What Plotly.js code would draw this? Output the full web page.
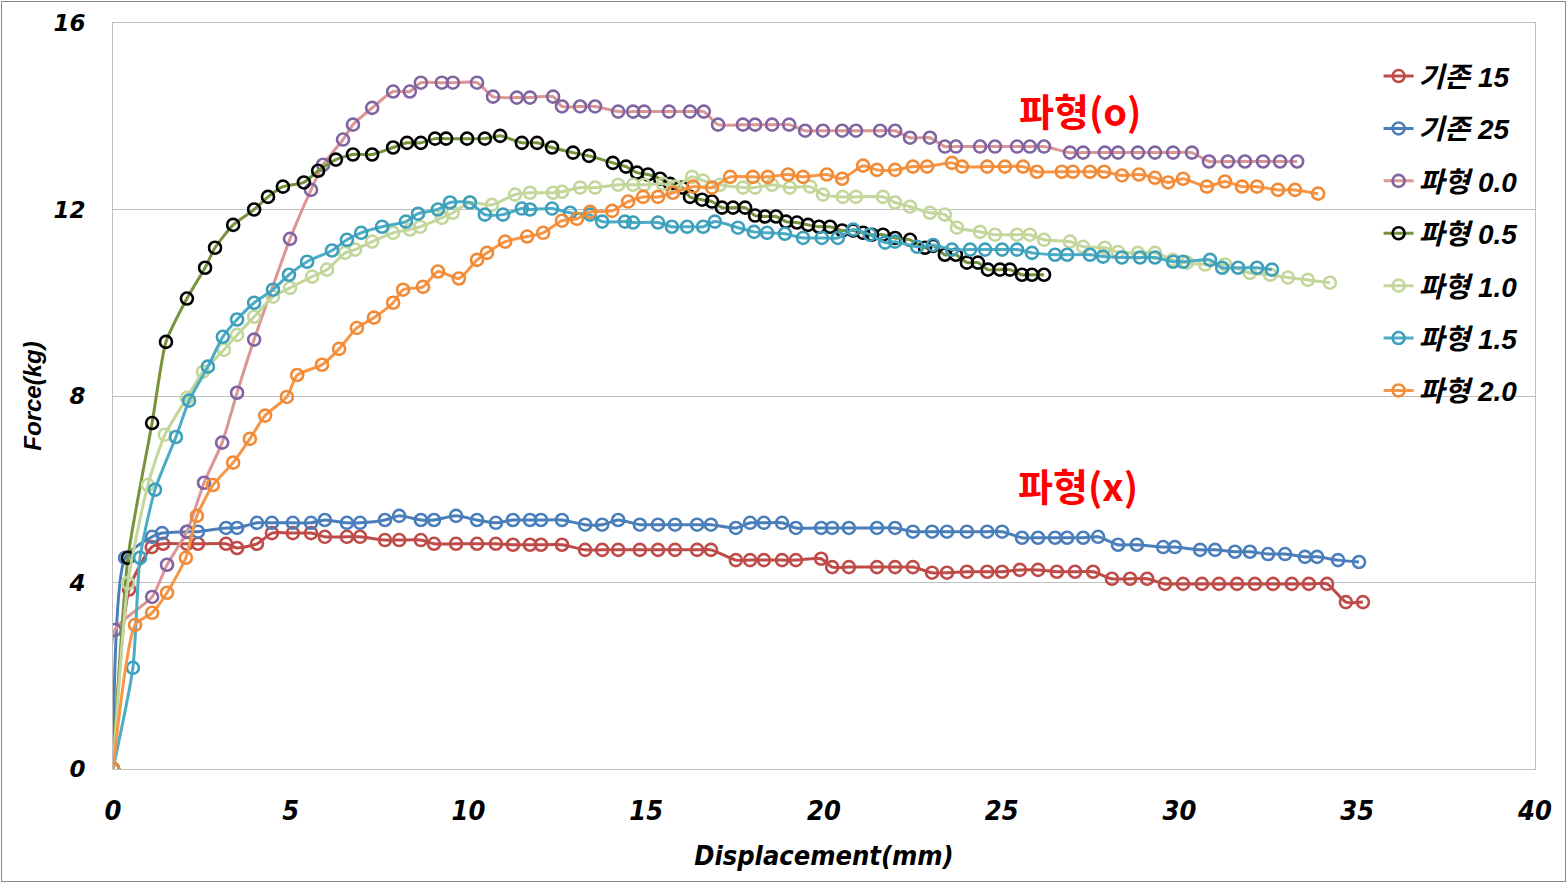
<!DOCTYPE html>
<html>
<head>
<meta charset="utf-8">
<script src="https://cdn.plot.ly/plotly-3.0.1.min.js"></script>
<style>
html,body{margin:0;padding:0;background:#fff;}
#wrap{position:relative;width:1568px;height:884px;}
#chart{width:1568px;height:884px;}
#frame{position:absolute;left:1px;top:1px;width:1563px;height:879px;border:1.5px solid #8a8a8a;pointer-events:none;}
</style>
</head>
<body>
<div id="wrap"><div id="chart"></div><div id="frame"></div></div>
<script>
// ---- data (Displacement mm, Force kg) ----
const seriesNames = ["기존 15", "기존 25", "파형 0.0", "파형 0.5", "파형 1.0", "파형 1.5", "파형 2.0"];

const x_g15 = [0,0.45,1.09,1.41,2.08,2.39,3.18,3.49,4.05,4.47,5.06,5.57,5.96,6.58,6.95,7.65,8.05,8.66,9.03,9.65,10.24,10.77,11.25,11.73,12.04,12.63,13.28,13.76,14.21,14.82,15.33,15.81,16.43,16.82,17.52,17.92,18.31,18.82,19.21,19.92,20.23,20.70,21.49,22.00,22.50,23.04,23.46,24.02,24.59,25.01,25.51,26.02,26.55,27.06,27.57,28.10,28.61,29.09,29.59,30.10,30.63,31.11,31.62,32.12,32.63,33.16,33.64,34.15,34.68,35.16];
const y_g15 = [0,3.85,4.76,4.83,4.83,4.83,4.83,4.74,4.83,5.06,5.06,5.06,4.98,4.98,4.98,4.91,4.91,4.91,4.83,4.83,4.83,4.83,4.81,4.81,4.81,4.81,4.70,4.70,4.70,4.70,4.70,4.70,4.70,4.70,4.48,4.48,4.48,4.48,4.48,4.51,4.33,4.33,4.33,4.33,4.33,4.21,4.21,4.23,4.23,4.23,4.27,4.27,4.23,4.23,4.23,4.08,4.08,4.08,3.97,3.97,3.97,3.97,3.97,3.97,3.97,3.97,3.97,3.97,3.58,3.58];

const x_g25 = [0,0.34,1.10,1.38,2.08,2.39,3.18,3.49,4.05,4.47,5.06,5.57,5.96,6.58,6.95,7.65,8.05,8.66,9.03,9.65,10.24,10.77,11.25,11.73,12.04,12.63,13.28,13.76,14.21,14.82,15.33,15.81,16.43,16.82,17.52,17.92,18.31,18.82,19.21,19.92,20.23,20.70,21.49,22.00,22.50,23.04,23.46,24.02,24.59,25.01,25.57,26.02,26.50,26.84,27.29,27.71,28.27,28.80,29.54,29.87,30.58,31.00,31.56,31.98,32.49,32.97,33.53,33.87,34.46,35.05];
const y_g25 = [0,4.53,4.98,5.06,5.09,5.09,5.17,5.17,5.28,5.28,5.28,5.28,5.34,5.28,5.28,5.34,5.43,5.34,5.34,5.43,5.34,5.28,5.34,5.34,5.34,5.34,5.24,5.24,5.34,5.24,5.24,5.24,5.24,5.24,5.17,5.28,5.28,5.28,5.17,5.17,5.17,5.17,5.17,5.17,5.09,5.09,5.09,5.09,5.09,5.09,4.96,4.96,4.96,4.96,4.96,4.98,4.81,4.81,4.76,4.76,4.70,4.70,4.66,4.66,4.61,4.61,4.55,4.55,4.48,4.44];

const x_p00 = [0,0.05,1.10,1.52,2.08,2.56,3.07,3.49,3.97,4.98,5.57,5.91,6.47,6.75,7.29,7.88,8.35,8.66,9.25,9.56,10.24,10.69,11.36,11.73,12.38,12.63,13.14,13.56,14.21,14.63,14.94,15.64,16.23,16.62,17.02,17.72,18.06,18.54,19.02,19.47,19.97,20.51,20.90,21.58,22.00,22.42,22.98,23.40,23.71,24.39,24.81,25.43,25.79,26.19,26.92,27.29,27.90,28.27,28.83,29.31,29.82,30.35,30.83,31.36,31.84,32.35,32.83,33.31];
const y_p00 = [0,2.98,3.69,4.38,5.09,6.14,7.00,8.07,9.21,11.37,12.42,12.96,13.50,13.82,14.18,14.53,14.53,14.72,14.72,14.72,14.72,14.42,14.40,14.40,14.42,14.21,14.21,14.21,14.10,14.10,14.10,14.10,14.10,14.10,13.82,13.82,13.82,13.82,13.82,13.69,13.69,13.69,13.69,13.69,13.69,13.54,13.54,13.35,13.35,13.35,13.35,13.35,13.35,13.35,13.22,13.22,13.22,13.22,13.22,13.22,13.22,13.22,13.03,13.03,13.03,13.03,13.03,13.03];

const x_p05 = [0,0.42,1.10,1.49,2.08,2.59,2.87,3.38,3.97,4.36,4.78,5.37,5.77,6.27,6.75,7.29,7.88,8.27,8.66,9.06,9.37,9.96,10.46,10.89,11.50,11.93,12.35,12.94,13.39,14.06,14.43,14.74,15.05,15.39,15.67,16.01,16.23,16.57,16.85,17.13,17.44,17.78,18.06,18.34,18.65,18.93,19.24,19.55,19.86,20.17,20.51,20.82,21.10,21.35,21.66,22.00,22.42,22.84,23.07,23.40,23.71,24.02,24.33,24.61,24.95,25.23,25.57,25.85,26.19];
const y_p05 = [0,4.53,7.42,9.16,10.09,10.75,11.18,11.67,12.00,12.27,12.49,12.58,12.83,13.07,13.18,13.18,13.33,13.43,13.43,13.52,13.52,13.52,13.52,13.58,13.43,13.43,13.33,13.22,13.15,13.00,12.92,12.79,12.75,12.66,12.55,12.47,12.27,12.21,12.17,12.04,12.04,12.04,11.87,11.85,11.85,11.74,11.72,11.67,11.63,11.63,11.55,11.55,11.50,11.46,11.46,11.39,11.35,11.18,11.22,11.03,11.03,10.86,10.86,10.71,10.71,10.71,10.60,10.60,10.60];

const x_p10 = [0,0.42,0.98,1.46,2.08,2.53,3.12,3.49,3.97,4.50,4.98,5.60,6.02,6.53,6.81,7.29,7.88,8.35,8.64,9.25,9.56,10.04,10.66,11.31,11.73,12.38,12.63,13.14,13.56,14.21,14.63,14.94,15.47,15.81,16.29,16.60,17.07,17.72,18.06,18.54,19.04,19.61,19.97,20.53,20.90,21.66,22.00,22.42,22.98,23.40,23.74,24.39,24.81,25.43,25.79,26.19,26.92,27.29,27.90,28.27,28.83,29.31,29.82,30.21,30.72,31.28,31.98,32.55,33.05,33.61,34.23];
const y_p10 = [0,3.99,6.09,7.17,7.96,8.52,8.99,9.31,9.70,10.13,10.32,10.56,10.71,11.07,11.14,11.31,11.50,11.57,11.63,11.82,11.93,12.15,12.10,12.32,12.36,12.36,12.38,12.47,12.47,12.53,12.53,12.53,12.55,12.49,12.70,12.62,12.53,12.47,12.47,12.53,12.47,12.49,12.32,12.27,12.27,12.27,12.15,12.06,11.93,11.89,11.61,11.52,11.46,11.46,11.46,11.35,11.31,11.20,11.18,11.09,11.07,11.07,10.92,10.86,10.82,10.82,10.64,10.60,10.54,10.49,10.43];

const x_p15 = [0,0.56,0.76,1.18,1.77,2.14,2.67,3.09,3.49,3.97,4.50,4.95,5.46,6.16,6.58,6.98,7.57,8.24,8.58,9.14,9.48,10.04,10.46,10.97,11.50,11.73,12.35,12.86,13.42,13.76,14.40,14.63,15.33,15.72,16.15,16.60,16.93,17.58,18.03,18.40,18.90,19.41,19.94,20.39,20.82,21.29,21.72,22.00,22.62,23.07,23.60,24.11,24.53,25.01,25.43,25.85,26.50,26.84,27.48,27.85,28.38,28.89,29.31,29.82,30.10,30.86,31.20,31.65,32.18,32.60];
const y_p15 = [0,2.17,4.53,5.99,7.12,7.90,8.63,9.27,9.64,10.00,10.28,10.60,10.88,11.12,11.35,11.50,11.63,11.74,11.91,12.00,12.15,12.15,11.89,11.89,12.02,12.00,12.02,11.93,11.89,11.74,11.74,11.72,11.72,11.63,11.63,11.63,11.74,11.61,11.52,11.50,11.48,11.39,11.39,11.39,11.57,11.46,11.29,11.31,11.20,11.24,11.14,11.14,11.14,11.14,11.14,11.07,11.03,11.03,11.03,10.99,10.97,10.97,10.97,10.88,10.88,10.92,10.75,10.75,10.75,10.71];

const x_p20 = [0,0.62,1.10,1.52,2.05,2.36,2.81,3.38,3.85,4.28,4.89,5.18,5.88,6.36,6.86,7.34,7.88,8.16,8.72,9.14,9.73,10.24,10.52,11.03,11.65,12.10,12.63,13.05,13.42,14.04,14.49,14.91,15.33,15.75,16.32,16.85,17.36,18.00,18.42,18.99,19.41,20.08,20.51,21.10,21.49,22.00,22.50,22.90,23.60,23.88,24.59,25.09,25.60,25.99,26.69,27.00,27.48,27.88,28.38,28.86,29.31,29.68,30.10,30.77,31.28,31.76,32.18,32.77,33.25,33.90];
const y_p20 = [0,3.09,3.35,3.78,4.53,5.43,6.09,6.57,7.08,7.58,7.98,8.45,8.67,9.01,9.46,9.68,10.00,10.28,10.34,10.67,10.52,10.92,11.07,11.31,11.42,11.50,11.76,11.80,11.95,11.97,12.17,12.27,12.27,12.36,12.49,12.47,12.70,12.70,12.70,12.75,12.70,12.75,12.66,12.94,12.85,12.85,12.92,12.92,13.00,12.92,12.92,12.92,12.92,12.81,12.81,12.81,12.81,12.81,12.73,12.75,12.68,12.58,12.66,12.49,12.60,12.49,12.49,12.42,12.42,12.34];

const xTicks = [0,5,10,15,20,25,30,35,40];
const yTicks = [0,4,8,12,16];
const annoTexts = ["파형(o)", "파형(x)"];
const annoX = [27.2, 27.15];
const annoY = [14.15, 6.1];

// ---- styles ----
const xs = [x_g15,x_g25,x_p00,x_p05,x_p10,x_p15,x_p20];
const ys = [y_g15,y_g25,y_p00,y_p05,y_p10,y_p15,y_p20];
const lineColors = ["#BE4B48","#4A7EBB","#D99694","#77933C","#C3D69B","#4BACC6","#F79646"];
const markerColors = ["#BE4B48","#4A7EBB","#8064A2","#000000","#C3D69B","#3D9FBA","#F08A36"];

const traces = seriesNames.map((n,i)=>({
  type:'scatter', mode:'lines+markers', name:n, legendgroup:n,
  x: xs[i], y: ys[i],
  line:{color:lineColors[i], width:3, shape:'spline', smoothing:0.6},
  marker:{symbol:'circle-open', size:12, color:markerColors[i], line:{width:2.6, color:markerColors[i]}}
}));

const narrow = '"DejaVu Sans Condensed", "Liberation Sans Narrow", "Liberation Sans", sans-serif';

const layout = {
  width:1568, height:884,
  margin:{l:113, r:33, t:23, b:115},
  paper_bgcolor:'#ffffff', plot_bgcolor:'#ffffff',
  showlegend:true,
  legend:{x:0.89, y:0.962, xanchor:'left', yanchor:'top', bgcolor:'rgba(0,0,0,0)',
    tracegroupgap:13,
    font:{family:'Liberation Sans, "Noto Sans CJK KR", sans-serif', size:28, color:'#000', weight:700, style:'italic'}},
  xaxis:{range:[0,40], tickvals:xTicks, ticktext:xTicks.map(String), showgrid:false, zeroline:false,
    showline:true, mirror:true, linecolor:'#BFBFBF', linewidth:1, ticks:'',
    ticklabelstandoff:18,
    tickfont:{family:narrow, size:27, color:'#000', weight:700, style:'italic'},
    title:{text:'Displacement(mm)', standoff:20,
      font:{family:narrow, size:27, color:'#000', weight:700, style:'italic'}}},
  yaxis:{range:[0,16], tickvals:yTicks, ticktext:yTicks.map(String), showgrid:true, gridcolor:'#BFBFBF', gridwidth:1,
    zeroline:false, showline:true, mirror:true, linecolor:'#BFBFBF', linewidth:1, ticks:'',
    ticklabelstandoff:22,
    tickfont:{family:'"DejaVu Sans", sans-serif', size:23, color:'#000', weight:900, style:'italic'},
    title:{text:'Force(kg)', standoff:4,
      font:{family:'Liberation Sans, sans-serif', size:24, color:'#000', weight:700, style:'italic'}}},
  annotations: annoTexts.map((t,i)=>({x:annoX[i], y:annoY[i], xref:'x', yref:'y', text:t, showarrow:false,
    font:{family:'"Noto Sans CJK KR", sans-serif', size:38, color:'#FF0000', weight:700}}))
};

Plotly.newPlot('chart', traces, layout, {displayModeBar:false, staticPlot:true});
</script>
</body>
</html>
